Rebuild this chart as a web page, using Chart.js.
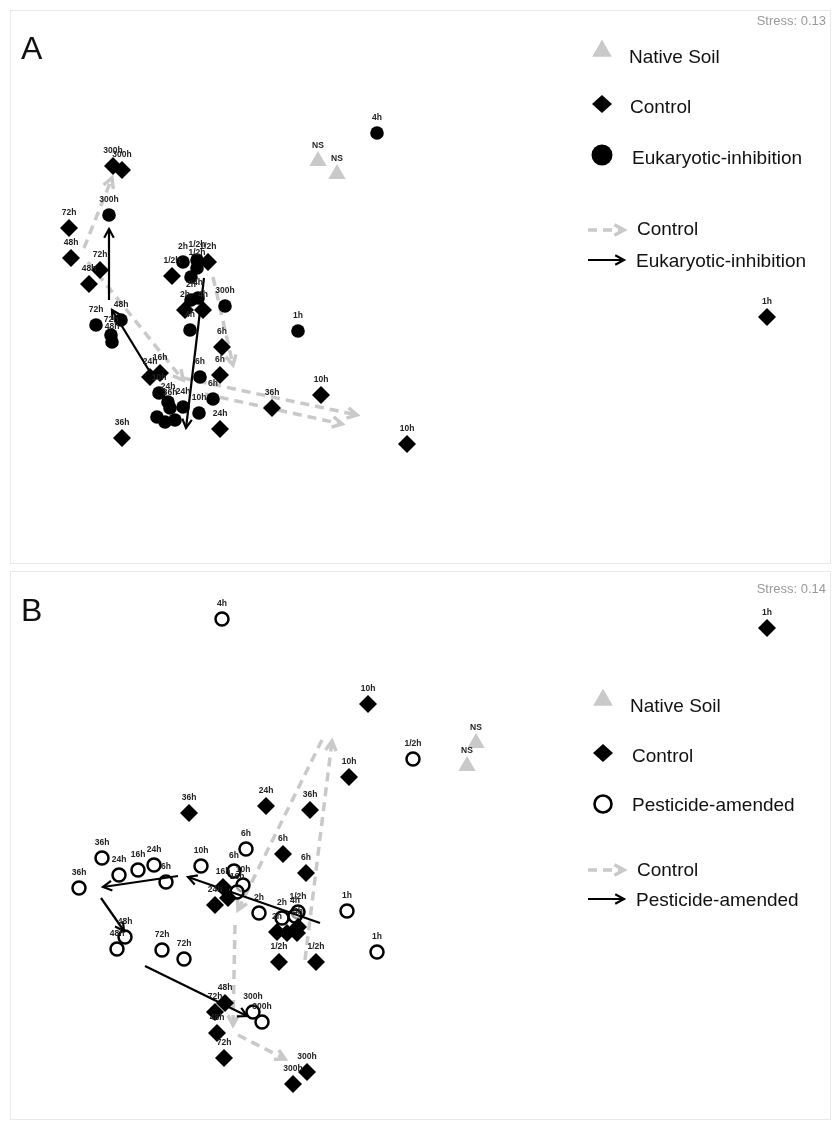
<!DOCTYPE html>
<html><head><meta charset="utf-8">
<script src="https://cdn.jsdelivr.net/npm/chart.js@4.4.1/dist/chart.umd.min.js"></script>
<style>
html,body{margin:0;padding:0;background:#fff;width:832px;height:1123px;overflow:hidden;font-family:"Liberation Sans",Arial,sans-serif;}
.panel{position:absolute;left:10px;width:821px;border:1px solid #e9e9e9;box-sizing:border-box;}
canvas{position:absolute;left:0;}
.t{position:absolute;white-space:nowrap;transform:translateY(-50%);color:#111;font-size:19px;line-height:22px;}
.letter{position:absolute;font-family:"Liberation Sans Narrow","Liberation Sans",Arial,sans-serif;font-size:32px;color:#111;line-height:34px;}
.stress{position:absolute;right:6px;font-size:13px;color:#9a9a9a;transform:translateY(-50%);}
</style></head>
<body>
<div class="panel" style="top:10px;height:554px;"></div>
<div class="panel" style="top:571px;height:549px;"></div>
<canvas id="cA" width="832" height="566" style="top:0"></canvas>
<canvas id="cB" width="832" height="557" style="top:566px"></canvas>
<div class="letter" style="left:21px;top:31px;">A</div>
<div class="letter" style="left:21px;top:593px;">B</div>
<div class="stress" style="top:20px;">Stress: 0.13</div>
<div class="stress" style="top:588px;">Stress: 0.14</div>
<div class="t" style="left:629px;top:57px;">Native Soil</div>
<div class="t" style="left:630px;top:107px;">Control</div>
<div class="t" style="left:632px;top:158px;">Eukaryotic-inhibition</div>
<div class="t" style="left:637px;top:229px;">Control</div>
<div class="t" style="left:636px;top:261px;">Eukaryotic-inhibition</div>
<div class="t" style="left:630px;top:706px;">Native Soil</div>
<div class="t" style="left:632px;top:756px;">Control</div>
<div class="t" style="left:632px;top:805px;">Pesticide-amended</div>
<div class="t" style="left:637px;top:870px;">Control</div>
<div class="t" style="left:636px;top:900px;">Pesticide-amended</div>
<script>
// NMDS ordination coordinates (arbitrary units), [NMDS1, NMDS2, label]
const nativeA = [[318,161,'NS'],[337,174,'NS']];
const controlA = [[113,166,'300h'],[122,170,'300h'],[69,228,'72h'],[71,258,'48h'],[100,270,'72h'],[89,284,'48h'],
  [172,276,'1/2h'],[208,262,'1/2h'],[185,310,'2h'],[203,310,'4h'],[222,347,'6h'],[220,375,'6h'],[150,377,'24h'],
  [160,373,'16h'],[122,438,'36h'],[220,429,'24h'],[272,408,'36h'],[321,395,'10h'],[407,444,'10h'],[767,317,'1h']];
const eukA = [[377,133,'4h'],[109,215,'300h'],[183,262,'2h'],[197,260,'1/2h'],[197,268,'1/2h'],[191,277,''],
  [191,300,'2h'],[198,298,'4h'],[190,330,'4h'],[225,306,'300h'],[298,331,'1h'],[96,325,'72h'],[121,320,'48h'],
  [111,335,'72h'],[112,342,'48h'],[200,377,'6h'],[213,399,'6h'],[159,393,'10h'],[168,402,'24h'],[170,408,'36h'],
  [157,417,''],[165,422,''],[175,420,''],[183,407,'24h'],[199,413,'10h']];
const trajCtrlA = [[84,248,112,178],[88,262,183,380],[183,378,357,415],[205,394,342,424],[213,277,233,365]];
const trajEukA = [[109,300,109,229],[150,372,112,310],[204,278,186,428]];

const nativeB = [[476,743,'NS'],[467,766,'NS']];
const controlB = [[767,628,'1h'],[368,704,'10h'],[349,777,'10h'],[189,813,'36h'],[266,806,'24h'],[310,810,'36h'],
  [283,854,'6h'],[306,873,'6h'],[223,887,'16h'],[228,898,''],[215,905,'24h'],[277,932,'2h'],[287,933,''],[297,933,''],
  [298,927,'4h'],[279,962,'1/2h'],[316,962,'1/2h'],[225,1003,'48h'],[215,1012,'72h'],[217,1033,'48h'],[224,1058,'72h'],
  [307,1072,'300h'],[293,1084,'300h']];
const pestB = [[222,619,'4h'],[413,759,'1/2h'],[102,858,'36h'],[119,875,'24h'],[138,870,'16h'],[154,865,'24h'],
  [166,882,'6h'],[79,888,'36h'],[201,866,'10h'],[246,849,'6h'],[234,871,'6h'],[243,885,'10h'],[237,892,'16h'],
  [259,913,'2h'],[298,912,'1/2h'],[282,918,'2h'],[295,916,'4h'],[347,911,'1h'],[377,952,'1h'],[125,937,'48h'],
  [117,949,'48h'],[162,950,'72h'],[184,959,'72h'],[253,1012,'300h'],[262,1022,'300h']];
const trajCtrlB = [[305,960,332,741],[322,740,238,910],[235,925,233,1025],[238,1035,285,1059]];
const trajPestB = [[320,923,188,877],[178,876,103,887],[101,898,124,931],[145,966,247,1016]];

const GRAY='#c9c9c9';
function pts(a){return a.map(p=>({x:p[0],y:p[1],l:p[2]}));}

function arrowHead(ctx,x1,y1,x2,y2,len){
  const a=Math.atan2(y2-y1,x2-x1);
  ctx.setLineDash([]);
  ctx.beginPath();
  ctx.moveTo(x2-len*Math.cos(a-0.5),y2-len*Math.sin(a-0.5));
  ctx.lineTo(x2,y2);
  ctx.lineTo(x2-len*Math.cos(a+0.5),y2-len*Math.sin(a+0.5));
  ctx.stroke();
}
function drawArrow(ctx,x1,y1,x2,y2,dashed){
  ctx.save();
  ctx.lineCap='butt';
  if(dashed){ctx.strokeStyle=GRAY;ctx.lineWidth=3.5;ctx.setLineDash([9,6]);}
  else {ctx.strokeStyle='#000';ctx.lineWidth=2.2;ctx.setLineDash([]);}
  ctx.beginPath();ctx.moveTo(x1,y1);ctx.lineTo(x2,y2);ctx.stroke();
  arrowHead(ctx,x1,y1,x2,y2,dashed?11:10);
  ctx.restore();
}

function makePlugin(ctrlArrows,trtArrows,legend){
  return {
    id:'nmds',
    beforeDatasetsDraw(chart){
      const {ctx,scales:{x,y}}=chart;
      ctrlArrows.forEach(a=>drawArrow(ctx,x.getPixelForValue(a[0]),y.getPixelForValue(a[1]),x.getPixelForValue(a[2]),y.getPixelForValue(a[3]),true));
    },
    afterDatasetsDraw(chart){
      const {ctx,scales:{x,y}}=chart;
      trtArrows.forEach(a=>drawArrow(ctx,x.getPixelForValue(a[0]),y.getPixelForValue(a[1]),x.getPixelForValue(a[2]),y.getPixelForValue(a[3]),false));
      ctx.save();
      ctx.font='bold 8.5px "Liberation Sans", Arial, sans-serif';
      ctx.fillStyle='#222';ctx.textAlign='center';ctx.textBaseline='middle';
      chart.data.datasets.forEach((ds,i)=>{
        const meta=chart.getDatasetMeta(i);
        meta.data.forEach((el,j)=>{const l=ds.data[j].l; if(l) ctx.fillText(l,el.x,el.y-15);});
      });
      ctx.restore();
      // legend symbols
      ctx.save();
      const L=legend;
      Chart.helpers.drawPoint(ctx,{pointStyle:'triangle',radius:11,borderWidth:0},L.x0,L.y[0]);
      ctx.fillStyle=GRAY;ctx.fill();
      ctx.fillStyle='#000';ctx.strokeStyle='#000';
      ctx.beginPath();ctx.moveTo(L.x0-10,L.y[1]);ctx.lineTo(L.x0,L.y[1]-9);ctx.lineTo(L.x0+10,L.y[1]);ctx.lineTo(L.x0,L.y[1]+9);ctx.closePath();ctx.fill();
      ctx.beginPath();ctx.arc(L.x0,L.y[2],L.open?8.5:10.5,0,Math.PI*2);
      if(L.open){ctx.lineWidth=2.6;ctx.stroke();}else ctx.fill();
      ctx.restore();
      drawArrow(ctx,588,L.y[3],624,L.y[3],true);
      drawArrow(ctx,588,L.y[4],624,L.y[4],false);
    }
  };
}

function baseOpts(ymin,ymax){
  return {responsive:false,animation:false,devicePixelRatio:1,
    layout:{padding:0,autoPadding:false},
    plugins:{legend:{display:false},tooltip:{enabled:false}},
    scales:{x:{type:'linear',min:0,max:832,display:false},
            y:{type:'linear',min:ymin,max:ymax,reverse:true,display:false}}};
}

new Chart(document.getElementById('cA'),{
  type:'scatter',
  data:{datasets:[
    {label:'Native Soil',data:pts(nativeA),pointStyle:'triangle',pointRadius:10,backgroundColor:GRAY,borderColor:GRAY,borderWidth:0,clip:false},
    {label:'Control',data:pts(controlA),pointStyle:'rectRot',pointRadius:9,backgroundColor:'#000',borderColor:'#000',borderWidth:0,clip:false},
    {label:'Eukaryotic-inhibition',data:pts(eukA),pointStyle:'circle',pointRadius:6.8,backgroundColor:'#000',borderColor:'#000',borderWidth:0,clip:false}
  ]},
  options:baseOpts(0,566),
  plugins:[makePlugin(trajCtrlA,trajEukA,{x0:602,y:[51,104,155,230,260],open:false})]
});

new Chart(document.getElementById('cB'),{
  type:'scatter',
  data:{datasets:[
    {label:'Native Soil',data:pts(nativeB),pointStyle:'triangle',pointRadius:10,backgroundColor:GRAY,borderColor:GRAY,borderWidth:0,clip:false},
    {label:'Control',data:pts(controlB),pointStyle:'rectRot',pointRadius:9,backgroundColor:'#000',borderColor:'#000',borderWidth:0,clip:false},
    {label:'Pesticide-amended',data:pts(pestB),pointStyle:'circle',pointRadius:6.5,backgroundColor:'rgba(255,255,255,0.6)',borderColor:'#000',borderWidth:2.5,clip:false}
  ]},
  options:baseOpts(566,1123),
  plugins:[makePlugin(trajCtrlB,trajPestB,{x0:603,y:[134,187,238,304,333],open:true})]
});
</script>
</body></html>
